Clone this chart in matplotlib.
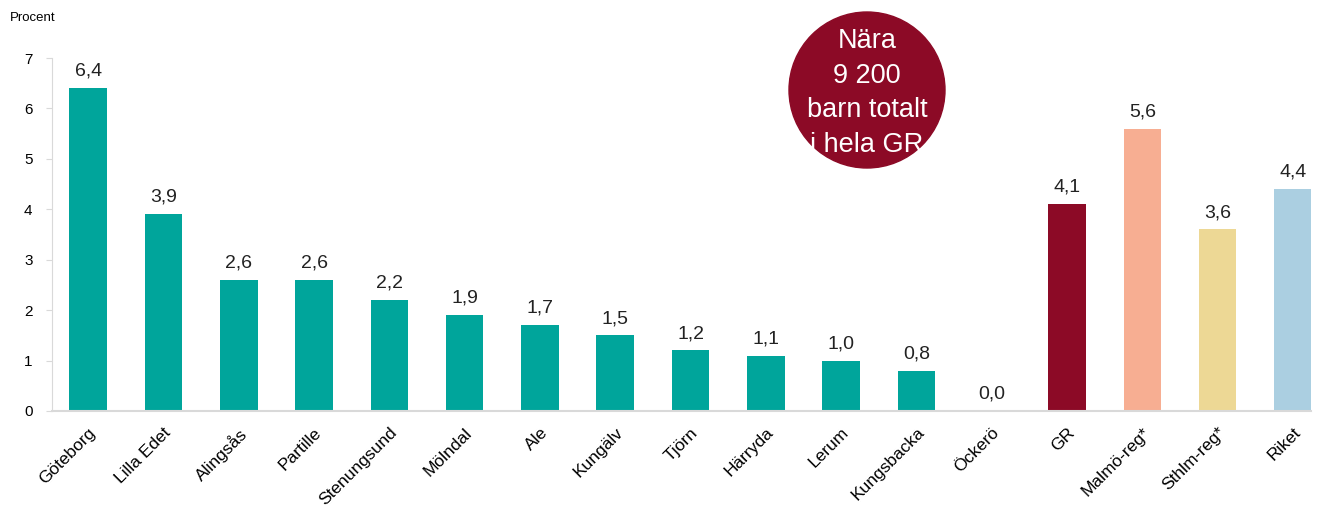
import matplotlib.pyplot as plt
from matplotlib.patches import Ellipse

plt.rcParams['font.family'] = ['Liberation Sans', 'DejaVu Sans']

# Data
kommuner = ['Göteborg', 'Lilla Edet', 'Alingsås', 'Partille', 'Stenungsund', 'Mölndal',
            'Ale', 'Kungälv', 'Tjörn', 'Härryda', 'Lerum', 'Kungsbacka', 'Öckerö',
            'GR', 'Malmö-reg*', 'Sthlm-reg*', 'Riket']
andel = [6.4, 3.9, 2.6, 2.6, 2.2, 1.9, 1.7, 1.5, 1.2, 1.1, 1.0, 0.8, 0.0,
         4.1, 5.6, 3.6, 4.4]
farger = ['#00A59B'] * 13 + ['#8C0A26', '#F7AE92', '#EDD895', '#ABCFE1']

W, H = 1321, 512
fig = plt.figure(figsize=(W / 100, H / 100), dpi=100)
ax = fig.add_axes([52 / W, 1 - 411 / H, (1311 - 52) / W, (411 - 58) / H])

x = range(len(kommuner))
staplar = ax.bar(x, andel, width=0.5, color=farger)

for xi, v in zip(x, andel):
    ax.annotate(f'{v:.1f}'.replace('.', ','), (xi, v), xytext=(0, 6),
                textcoords='offset points', ha='center', va='bottom',
                fontsize=14, color='#222222')

ax.set_xlim(-0.48, 16.24)
ax.set_ylim(0, 7)
ax.set_yticks(range(8))
ax.set_xticks(list(x))
ax.set_xticklabels(kommuner, rotation=45, ha='right', rotation_mode='anchor',
                   fontsize=12.5)
ax.tick_params(axis='x', length=0, pad=10)
ax.tick_params(axis='y', length=4, color='#D9D9D9', labelsize=11, pad=10)

for s in ['top', 'right']:
    ax.spines[s].set_visible(False)
ax.spines['left'].set_color('#D9D9D9')
ax.spines['bottom'].set_color('#D9D9D9')
ax.spines['bottom'].set_linewidth(1.5)

fig.text(10 / W, 1 - 18 / H, 'Procent', fontsize=9.5, va='center', ha='left')

# Cirkel med text
cx, cy, r = 867, 90, 78
fig.add_artist(Ellipse((cx / W, 1 - cy / H), 2 * r / W, 2 * r / H,
                       transform=fig.transFigure, color='#8C0A26'))
fig.text(cx / W, 1 - (cy + 3) / H, 'Nära\n9 200\nbarn totalt\ni hela GR',
         ha='center', va='center', color='white', fontsize=19.5, linespacing=1.42)

fig.savefig('out.png', dpi=100)
